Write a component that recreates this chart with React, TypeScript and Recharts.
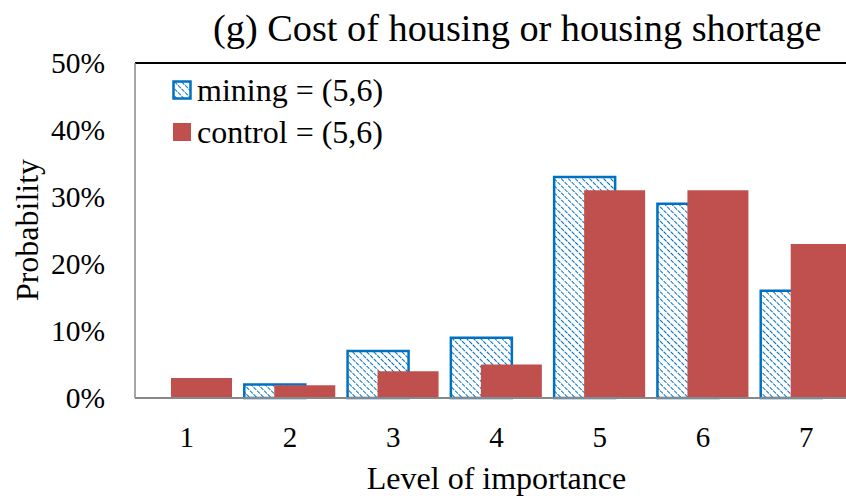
import React from "react";
import { BarChart, Bar, XAxis, YAxis, ReferenceLine } from "recharts";

const levels = ["1", "2", "3", "4", "5", "6", "7"];
const mining = [0, 0.02, 0.07, 0.09, 0.33, 0.29, 0.16];
const control = [0.03, 0.019, 0.04, 0.05, 0.31, 0.31, 0.23];
const yTicks = [0, 0.1, 0.2, 0.3, 0.4, 0.5];

const data = levels.map((level, i) => ({ level, mining: mining[i], control: control[i] }));

const FONT = "'Liberation Serif', 'Times New Roman', serif";
const BLUE = "#0070C0";
const RED = "#C0504D";

function LegendBox() {
  const row = { display: "flex", alignItems: "center", height: 42 } as const;
  return (
    <div style={{ position: "absolute", left: 172, top: 69, fontFamily: FONT, fontSize: 32, color: "#000", lineHeight: 1, whiteSpace: "nowrap" }}>
      <div style={row}>
        <svg width={20} height={20} style={{ marginRight: 5 }}>
          <rect x={1.5} y={1.5} width={17} height={17} fill="url(#hatch)" stroke={BLUE} strokeWidth={2.5} />
        </svg>
        mining = (5,6)
      </div>
      <div style={row}>
        <svg width={20} height={20} style={{ marginRight: 5 }}>
          <rect x={1} y={1} width={18} height={18} fill={RED} />
        </svg>
        control = (5,6)
      </div>
    </div>
  );
}

export default function App() {
  return (
    <div style={{ position: "fixed", left: 0, top: 0, width: 846, height: 499, overflow: "hidden", background: "#fff" }}>
      <div style={{ position: "absolute", left: 213, top: 6, fontFamily: FONT, fontSize: 38.3, whiteSpace: "nowrap" }}>
        (g) Cost of housing or housing shortage
      </div>
      <div
        style={{
          position: "absolute",
          left: 27,
          top: 230,
          transform: "translate(-50%, -50%) rotate(-90deg)",
          fontFamily: FONT,
          fontSize: 32,
          lineHeight: 1,
          whiteSpace: "nowrap",
        }}
      >
        Probability
      </div>
      <BarChart
        width={870}
        height={499}
        data={data}
        margin={{ top: 63, right: 12, bottom: 0, left: 0 }}
        barGap={-31}
        barSize={61}
      >
        <defs>
          <pattern id="hatch" patternUnits="userSpaceOnUse" width={5} height={5} patternTransform="rotate(-45)">
            <rect width={5} height={5} fill="#fff" />
            <line x1={0} y1={0} x2={0} y2={5} stroke={BLUE} strokeWidth={2} strokeDasharray="2 1" />
          </pattern>
        </defs>
        <XAxis
          dataKey="level"
          height={101}
          stroke="#888"
          strokeWidth={2}
          tickLine={false}
          tickSize={0}
          tickMargin={28}
          tick={{ fill: "#000", fontSize: 29, fontFamily: FONT }}
          label={{ value: "Level of importance", position: "insideBottom", offset: 10, fill: "#000", fontSize: 32, fontFamily: FONT }}
        />
        <YAxis
          width={135}
          domain={[0, 0.5]}
          ticks={yTicks}
          stroke="#888"
          strokeWidth={1.5}
          tickLine={false}
          tickSize={0}
          tickMargin={30}
          tickFormatter={(v: number) => `${Math.round(v * 100)}%`}
          tick={{ fill: "#000", fontSize: 29.5, fontFamily: FONT }}
        />
        <ReferenceLine y={0.5} stroke="#000" strokeWidth={2} />
        <Bar dataKey="mining" fill="url(#hatch)" stroke={BLUE} strokeWidth={2.5} isAnimationActive={false} />
        <Bar dataKey="control" fill={RED} isAnimationActive={false} />
      </BarChart>
      <LegendBox />
    </div>
  );
}
